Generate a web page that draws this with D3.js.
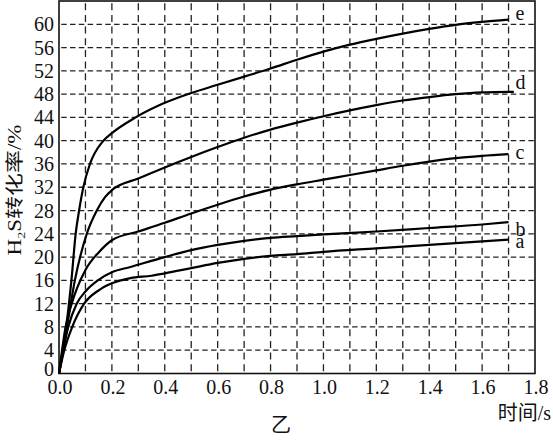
<!DOCTYPE html>
<html>
<head>
<meta charset="utf-8">
<script src="https://cdn.jsdelivr.net/npm/d3@7"></script>
<style>
  body { margin: 0; background: #fff; }
  svg { display: block; }
  text { font-family: "Liberation Serif", "DejaVu Serif", serif; fill: #111; }
  .cjk { font-family: "Noto Sans CJK SC", "Noto Sans", sans-serif; }
</style>
</head>
<body>
<svg id="chart" width="553" height="442"></svg>
<script>
// tick labels
var xTicks = [0, 0.2, 0.4, 0.6, 0.8, 1.0, 1.2, 1.4, 1.6, 1.8]
var yTicks = [0, 4, 8, 12, 16, 20, 24, 28, 32, 36, 40, 44, 48, 52, 56, 60]
var xGrid = [0.1, 0.2, 0.3, 0.4, 0.5, 0.6, 0.7, 0.8, 0.9, 1.0, 1.1, 1.2, 1.3, 1.4, 1.5, 1.6, 1.7]

// series (time in s, conversion in %)
var eTime = [0, 0.03, 0.047, 0.063, 0.076, 0.092, 0.117, 0.168, 0.2, 0.29, 0.4, 0.5, 0.6, 0.7, 0.8, 0.9, 1.0, 1.1, 1.2, 1.3, 1.4, 1.5, 1.6, 1.7]
var eVals = [0, 9, 16, 24, 28, 32, 36, 40, 41.3, 44, 46.5, 48.2, 49.6, 51, 52.4, 53.9, 55.3, 56.5, 57.5, 58.4, 59.2, 59.9, 60.4, 60.8]
var dTime = [0, 0.03, 0.06, 0.105, 0.143, 0.174, 0.2, 0.3, 0.4, 0.5, 0.6, 0.7, 0.8, 0.9, 1.0, 1.1, 1.2, 1.3, 1.4, 1.5, 1.6, 1.72]
var dVals = [0, 8, 16, 24, 28, 30.3, 31.5, 33.5, 35.4, 37.2, 38.9, 40.5, 41.9, 43.1, 44.2, 45.2, 46.1, 46.9, 47.5, 48, 48.3, 48.4]
var cTime = [0, 0.025, 0.048, 0.1, 0.15, 0.2, 0.3, 0.4, 0.5, 0.6, 0.7, 0.8, 0.9, 1.0, 1.1, 1.2, 1.3, 1.4, 1.5, 1.6, 1.7]
var cVals = [0, 8, 12, 17.8, 20.8, 22.9, 24.4, 25.9, 27.5, 29.0, 30.4, 31.6, 32.5, 33.3, 34.1, 34.9, 35.7, 36.4, 37, 37.4, 37.7]
var bTime = [0, 0.035, 0.067, 0.1, 0.15, 0.2, 0.27, 0.4, 0.5, 0.6, 0.7, 0.8, 0.9, 1.0, 1.2, 1.4, 1.6, 1.7]
var bVals = [0, 8, 12, 14.1, 16.1, 17.4, 18.3, 20, 21.2, 22.1, 22.8, 23.3, 23.6, 23.9, 24.4, 25, 25.6, 26]
var aTime = [0, 0.02, 0.05, 0.095, 0.15, 0.2, 0.27, 0.35, 0.4, 0.5, 0.6, 0.7, 0.8, 0.9, 1.0, 1.2, 1.4, 1.6, 1.7]
var aVals = [0, 4, 8, 12, 14.3, 15.5, 16.4, 16.8, 17.2, 18.1, 19, 19.7, 20.2, 20.5, 20.9, 21.5, 22.1, 22.7, 23]

var seriesNames = ['e', 'd', 'c', 'b', 'a']
var seriesTimes = [eTime, dTime, cTime, bTime, aTime]
var seriesVals = [eVals, dVals, cVals, bVals, aVals]

var svg = d3.select('#chart')
var margin = {top: 1, right: 18, bottom: 68.5, left: 59}
var width = 553, height = 442

var x = d3.scaleLinear().domain([0, 1.8]).range([margin.left, width - margin.right])
var y = d3.scaleLinear().domain([0, 64]).range([height - margin.bottom, margin.top])

var cellW = x(0.1) - x(0)
var cellH = y(0) - y(4)

// dashed grid
svg.append('g')
  .selectAll('line').data(yTicks.filter(d => d > 0)).enter()
  .append('line')
  .attr('x1', x(0)).attr('x2', x(1.8))
  .attr('y1', d => y(d)).attr('y2', d => y(d))
  .attr('stroke', '#222').attr('stroke-width', 1.3)
  .attr('stroke-dasharray', (cellW / 3 * 0.62) + ',' + (cellW / 3 * 0.38))
  .attr('stroke-dashoffset', -cellW / 3 * 0.25)

svg.append('g')
  .selectAll('line').data(xGrid).enter()
  .append('line')
  .attr('x1', d => x(d)).attr('x2', d => x(d))
  .attr('y1', y(0)).attr('y2', y(64))
  .attr('stroke', '#222').attr('stroke-width', 1.3)
  .attr('stroke-dasharray', (cellH / 2 * 0.6) + ',' + (cellH / 2 * 0.4))
  .attr('stroke-dashoffset', -cellH / 2 * 0.2)

// frame
svg.append('rect')
  .attr('x', x(0)).attr('y', y(64))
  .attr('width', x(1.8) - x(0)).attr('height', y(0) - y(64))
  .attr('fill', 'none').attr('stroke', '#111').attr('stroke-width', 1.6)

// curves
var line = d3.line()
  .x(d => x(d[0]))
  .y(d => y(d[1]))
  .curve(d3.curveMonotoneX)

// label nudge in px (e, d, c, b, a)
var labelDy = [-5, -8, 0, 9, 3]

seriesNames.forEach((name, i) => {
  var pts = seriesTimes[i].map((t, j) => [t, seriesVals[i][j]])
  svg.append('path')
    .datum(pts)
    .attr('d', line)
    .attr('fill', 'none')
    .attr('stroke', '#000')
    .attr('stroke-width', 2.2)
  var last = pts[pts.length - 1]
  svg.append('text')
    .attr('x', x(1.7) + 7)
    .attr('y', y(last[1]) + 5 + labelDy[i])
    .attr('font-size', 20)
    .text(name)
})

// tick labels
svg.append('g')
  .selectAll('text').data(yTicks).enter()
  .append('text')
  .attr('x', margin.left - 5)
  .attr('y', d => y(d) + 7 - (d == 0 ? 5 : 0))
  .attr('text-anchor', 'end')
  .attr('font-size', 20)
  .text(d => d)

svg.append('g')
  .selectAll('text').data(xTicks).enter()
  .append('text')
  .attr('x', d => x(d) + 1)
  .attr('y', y(0) + 20)
  .attr('text-anchor', 'middle')
  .attr('font-size', 20)
  .text(d => d.toFixed(1))

// axis titles
var yTitle = svg.append('text')
  .attr('transform', 'translate(21,190) rotate(-90) scale(1,0.8)')
  .attr('text-anchor', 'middle')
  .attr('font-size', 23)
yTitle.append('tspan').text('H')
yTitle.append('tspan').attr('font-size', 14).attr('dy', 5).text('2')
yTitle.append('tspan').attr('dy', -5).text('S')
yTitle.append('tspan').attr('class', 'cjk').text('转化率')
yTitle.append('tspan').text('/%')

var xTitle = svg.append('text')
  .attr('x', 551).attr('y', 420)
  .attr('text-anchor', 'end')
  .attr('font-size', 20)
xTitle.append('tspan').attr('class', 'cjk').text('时间')
xTitle.append('tspan').text('/s')

svg.append('text')
  .attr('class', 'cjk')
  .attr('x', 281).attr('y', 432)
  .attr('text-anchor', 'middle')
  .attr('font-size', 20)
  .text('乙')
</script>
</body>
</html>
